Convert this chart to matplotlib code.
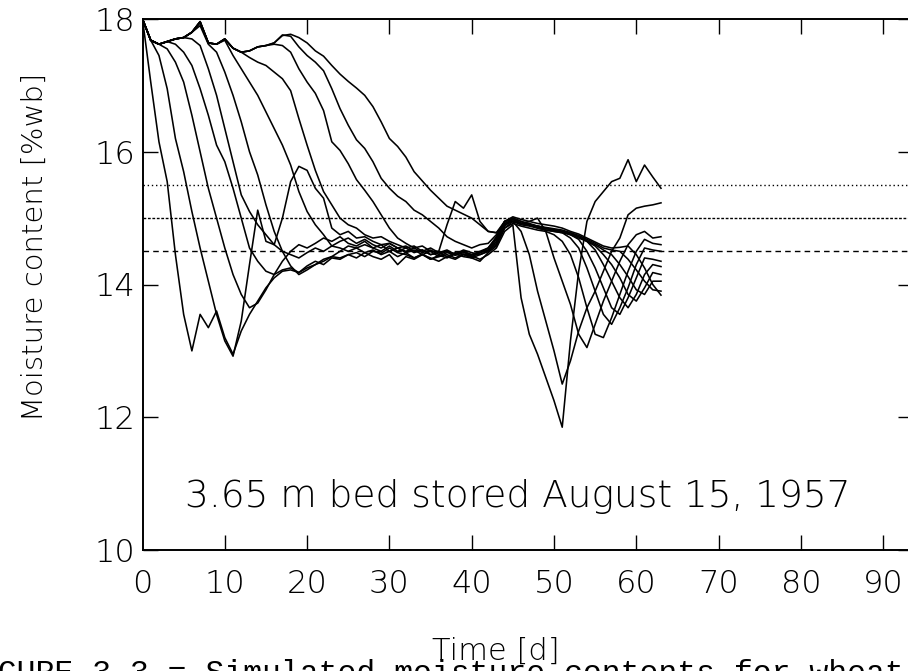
import matplotlib
matplotlib.use("Agg")
import matplotlib.pyplot as plt
import numpy as np

# Simulated moisture content [%wb] per layer (bottom layer first), one value per day
days = np.arange(64)

layer_a = [18.00, 17.05, 16.15, 15.55, 14.45, 13.55, 13.00, 13.55, 13.35, 13.60,
           13.20, 12.95, 13.30, 13.55, 13.75, 13.95, 14.10, 14.20, 14.22, 14.18,
           14.25, 14.30, 14.38, 14.42, 14.40, 14.45, 14.48, 14.42, 14.50, 14.47,
           14.55, 14.48, 14.45, 14.40, 14.45, 14.38, 14.42, 14.45, 14.40, 14.46,
           14.43, 14.38, 14.45, 14.55, 14.80, 14.90, 13.80, 13.25, 12.95, 12.60,
           12.25, 11.85, 13.15, 14.20, 14.95, 15.25, 15.40, 15.55, 15.60, 15.88,
           15.55, 15.80, 15.62, 15.45]
layer_b = [18.00, 17.68, 17.45, 16.95, 16.20, 15.70, 15.10, 14.55, 14.05, 13.55,
           13.15, 12.92, 13.45, 14.30, 15.12, 14.65, 14.60, 15.00, 15.55, 15.78,
           15.72, 15.45, 15.30, 14.85, 14.75, 14.80, 14.70, 14.72, 14.65, 14.60,
           14.62, 14.55, 14.58, 14.50, 14.52, 14.45, 14.48, 14.50, 14.46, 14.52,
           14.48, 14.45, 14.50, 14.60, 14.85, 14.95, 14.80, 14.45, 13.90, 13.45,
           13.00, 12.50, 12.85, 13.30, 13.65, 13.90, 14.20, 14.50, 14.70, 15.05,
           15.15, 15.18, 15.20, 15.23]
layer_c = [18.00, 17.68, 17.62, 17.55, 17.35, 17.05, 16.55, 16.00, 15.45, 15.00,
           14.55, 14.15, 13.85, 13.65, 13.72, 13.92, 14.15, 14.35, 14.50, 14.60,
           14.55, 14.62, 14.70, 14.65, 14.72, 14.62, 14.58, 14.65, 14.55, 14.60,
           14.50, 14.55, 14.48, 14.52, 14.45, 14.50, 14.42, 14.48, 14.45, 14.50,
           14.42, 14.48, 14.52, 14.62, 14.88, 14.98, 14.92, 14.95, 15.00, 14.80,
           14.40, 14.05, 13.70, 13.25, 13.05, 13.40, 13.75, 14.05, 14.35, 14.60,
           14.75, 14.80, 14.70, 14.72]
layer_d = [18.00, 17.68, 17.62, 17.66, 17.62, 17.50, 17.30, 16.95, 16.55, 16.10,
           15.85, 15.45, 15.00, 14.55, 14.35, 14.20, 14.15, 14.22, 14.25, 14.18,
           14.28, 14.35, 14.30, 14.40, 14.38, 14.45, 14.40, 14.48, 14.42, 14.38,
           14.45, 14.30, 14.42, 14.38, 14.45, 14.40, 14.35, 14.42, 14.38, 14.45,
           14.40, 14.35, 14.48, 14.58, 14.85, 14.92, 14.88, 14.85, 14.82, 14.80,
           14.75, 14.65, 14.45, 14.10, 13.65, 13.25, 13.20, 13.50, 13.85, 14.20,
           14.50, 14.68, 14.62, 14.60]
layer_e = [18.00, 17.68, 17.62, 17.66, 17.70, 17.72, 17.70, 17.60, 17.25, 16.85,
           16.35, 15.85, 15.35, 15.10, 14.90, 14.75, 14.60, 14.50, 14.45, 14.40,
           14.48, 14.55, 14.50, 14.58, 14.55, 14.50, 14.55, 14.48, 14.52, 14.45,
           14.50, 14.42, 14.48, 14.40, 14.46, 14.38, 14.44, 14.40, 14.46, 14.42,
           14.40, 14.45, 14.50, 14.65, 14.90, 14.95, 14.90, 14.88, 14.85, 14.82,
           14.80, 14.78, 14.70, 14.55, 14.25, 13.90, 13.55, 13.40, 13.65, 13.95,
           14.30, 14.55, 14.52, 14.50]
layer_f = [18.00, 17.68, 17.62, 17.66, 17.70, 17.72, 17.80, 17.90, 17.62, 17.50,
           17.20, 16.85, 16.45, 16.00, 15.65, 15.20, 14.80, 14.50, 14.28, 14.15,
           14.22, 14.30, 14.35, 14.42, 14.50, 14.58, 14.55, 14.60, 14.55, 14.50,
           14.58, 14.50, 14.55, 14.48, 14.52, 14.45, 14.48, 14.42, 14.48, 14.45,
           14.42, 14.48, 14.52, 14.68, 14.92, 14.98, 14.92, 14.90, 14.88, 14.85,
           14.82, 14.80, 14.75, 14.68, 14.50, 14.25, 13.95, 13.65, 13.55, 13.80,
           14.10, 14.40, 14.38, 14.35]
layer_g = [18.00, 17.68, 17.62, 17.66, 17.70, 17.72, 17.80, 17.94, 17.64, 17.62,
           17.68, 17.45, 17.25, 17.05, 16.85, 16.60, 16.35, 16.10, 15.80, 15.40,
           15.10, 14.90, 14.75, 14.58, 14.65, 14.70, 14.62, 14.68, 14.60, 14.55,
           14.62, 14.55, 14.50, 14.55, 14.48, 14.52, 14.45, 14.50, 14.44, 14.48,
           14.45, 14.50, 14.55, 14.70, 14.95, 15.00, 14.95, 14.90, 14.88, 14.85,
           14.82, 14.80, 14.78, 14.72, 14.65, 14.52, 14.30, 14.05, 13.80, 13.65,
           13.85, 14.15, 14.30, 14.27]
layer_h = [18.00, 17.68, 17.62, 17.66, 17.70, 17.72, 17.80, 17.96, 17.64, 17.62,
           17.70, 17.56, 17.50, 17.42, 17.35, 17.30, 17.20, 17.10, 16.92, 16.50,
           16.10, 15.72, 15.40, 15.20, 15.00, 14.90, 14.85, 14.75, 14.70, 14.72,
           14.65, 14.60, 14.55, 14.58, 14.50, 14.55, 14.48, 14.52, 14.45, 14.50,
           14.45, 14.48, 14.55, 14.72, 14.95, 14.98, 14.92, 14.90, 14.85, 14.82,
           14.80, 14.78, 14.75, 14.70, 14.65, 14.58, 14.45, 14.30, 14.10, 13.85,
           13.75, 13.95, 14.18, 14.15]
layer_i = [18.00, 17.68, 17.62, 17.66, 17.70, 17.72, 17.80, 17.96, 17.64, 17.62,
           17.70, 17.56, 17.50, 17.52, 17.58, 17.60, 17.62, 17.60, 17.50, 17.25,
           17.05, 16.88, 16.62, 16.15, 16.02, 15.82, 15.58, 15.42, 15.25, 15.05,
           14.85, 14.70, 14.62, 14.55, 14.58, 14.50, 14.50, 14.90, 15.25, 15.15,
           15.35, 14.95, 14.80, 14.78, 14.92, 14.95, 14.92, 14.90, 14.86, 14.84,
           14.82, 14.80, 14.76, 14.72, 14.66, 14.60, 14.52, 14.45, 14.30, 14.12,
           13.92, 13.85, 14.05, 14.05]
layer_j = [18.00, 17.68, 17.62, 17.66, 17.70, 17.72, 17.80, 17.96, 17.64, 17.62,
           17.70, 17.56, 17.50, 17.52, 17.58, 17.60, 17.64, 17.76, 17.74, 17.58,
           17.45, 17.35, 17.22, 16.95, 16.65, 16.40, 16.18, 16.05, 15.85, 15.60,
           15.45, 15.33, 15.25, 15.12, 15.05, 14.95, 14.85, 14.72, 14.65, 14.60,
           14.55, 14.60, 14.62, 14.75, 14.95, 15.00, 14.95, 14.92, 14.88, 14.86,
           14.84, 14.82, 14.78, 14.74, 14.68, 14.62, 14.55, 14.52, 14.50, 14.38,
           14.22, 14.05, 13.92, 13.90]
layer_k = [18.00, 17.68, 17.62, 17.66, 17.70, 17.72, 17.80, 17.96, 17.64, 17.62,
           17.70, 17.56, 17.50, 17.52, 17.58, 17.60, 17.64, 17.75, 17.77, 17.72,
           17.64, 17.52, 17.44, 17.30, 17.17, 17.06, 16.96, 16.85, 16.68, 16.45,
           16.20, 16.08, 15.92, 15.70, 15.56, 15.42, 15.30, 15.18, 15.12, 15.06,
           15.00, 14.90, 14.80, 14.78, 14.95, 15.02, 14.98, 14.95, 14.92, 14.90,
           14.88, 14.85, 14.80, 14.76, 14.70, 14.64, 14.58, 14.55, 14.56, 14.58,
           14.45, 14.25, 14.00, 13.84]

layers = [layer_a, layer_b, layer_c, layer_d, layer_e, layer_f,
          layer_g, layer_h, layer_i, layer_j, layer_k]

# Reference moisture levels
ref_levels = [15.5, 15.0, 14.5]
ref_styles = [(0, (1, 2)), (0, (2, 1.2)), (0, (4, 3))]

x_ticks = [10, 20, 30, 40, 50, 60, 70, 80, 90]
x_labels = ["0", "10", "20", "30", "40", "50", "60", "70", "80", "90"]
y_ticks = [10, 12, 14, 16, 18]

W, H = 908, 671
fig = plt.figure(figsize=(W / 100, H / 100), dpi=100)
ax_left, ax_right, ax_top, ax_bottom = 142.5, 913, 19, 550
ax = fig.add_axes([ax_left / W, 1 - ax_bottom / H, (ax_right - ax_left) / W, (ax_bottom - ax_top) / H])

for vals in layers:
    ax.plot(days, vals, color="black", lw=1.15)

for lev, ls in zip(ref_levels, ref_styles):
    ax.axhline(lev, color="black", lw=1.0, linestyle=ls)

ax.set_xlim(0, (ax_right - ax_left) / 8.23)
ax.set_ylim(10, 18)

font = "DejaVu Sans"
wt = "light"
ax.set_xticks(x_ticks)
ax.set_xticklabels([])
ax.set_yticks(y_ticks)
ax.set_yticklabels([str(v) for v in y_ticks], fontsize=23, family=font, fontweight=wt)
ax.tick_params(axis="both", direction="in", length=11, width=1.0, top=True, right=True)
ax.tick_params(axis="y", pad=5)

# x tick labels drawn below the axis, including the 0 at the corner
for v, lab in zip([0] + x_ticks, x_labels):
    ax.text(v, -0.035, lab, transform=ax.get_xaxis_transform(), ha="center", va="top",
            fontsize=23, family=font, fontweight=wt)

for sp in ax.spines.values():
    sp.set_linewidth(1.4)

ax.set_ylabel("Moisture content [%wb]", fontsize=21, family=font, fontweight=wt)
ax.yaxis.set_label_coords(-0.122, 0.57)
ax.text(5.2, 10.8, "3.65 m bed stored August 15, 1957", ha="left", va="center",
        fontsize=27, family=font, fontweight=wt)

fig.text(496 / W, 1 - 651 / H, "Time [d]", ha="center", va="center", fontsize=22,
         family=font, fontweight=wt)
fig.text(-40 / W, 1 - 682 / H, "FIGURE 3.3 = Simulated moisture contents for wheat",
         ha="left", va="baseline", fontsize=22.7, family="Liberation Mono")

fig.savefig("out.png", dpi=100)
